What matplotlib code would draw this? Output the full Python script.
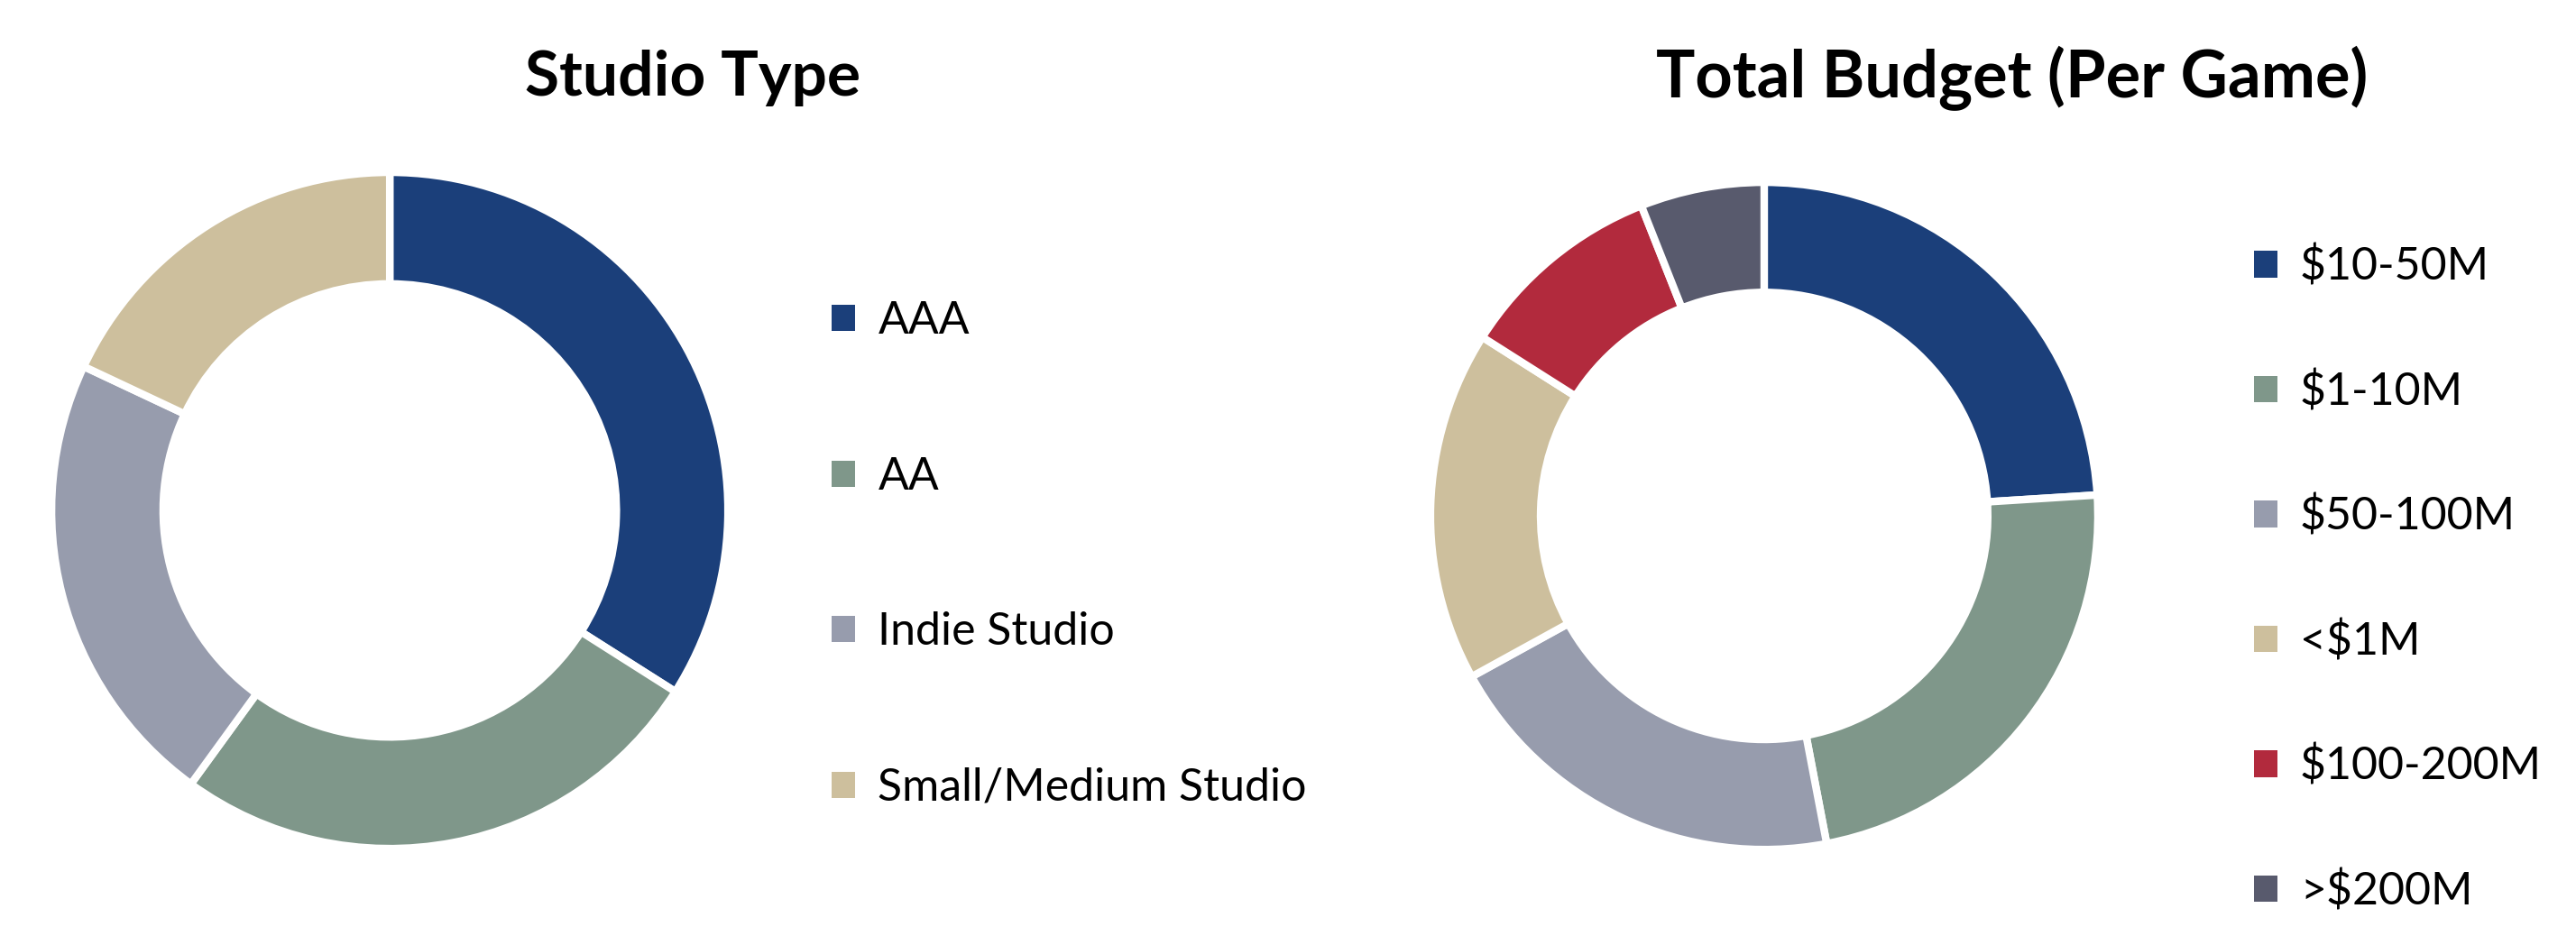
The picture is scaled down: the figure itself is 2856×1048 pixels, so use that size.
import matplotlib
matplotlib.use("Agg")
import matplotlib.pyplot as plt

# studio type split (%)
studio_labels = ["AAA", "AA", "Indie Studio", "Small/Medium Studio"]
studio_values = [34, 26, 22, 18]
studio_colors = ["#1b3f7a", "#7f978a", "#979cad", "#cdbf9d"]

# total budget per game (%)
budget_labels = ["$10-50M", "$1-10M", "$50-100M", "<$1M", "$100-200M", ">$200M"]
budget_values = [24, 23, 20, 17, 10, 6]
budget_colors = ["#1b3f7a", "#7f978a", "#979cad", "#cdbf9d", "#b22a3d", "#585a6d"]

plt.rcParams['font.family'] = ['Lato', 'DejaVu Sans']

fig = plt.figure(figsize=(28.56, 10.48), dpi=100)

ax1 = fig.add_axes([0.020, 0.102, 0.2626, 0.7157])
ax2 = fig.add_axes([0.5553, 0.101, 0.2591, 0.7061])

def donut(ax, vals, cols):
    w, _ = ax.pie(vals, colors=cols, startangle=90, counterclock=False,
                  radius=1.0,
                  wedgeprops=dict(width=0.33, edgecolor="white", linewidth=6))
    ax.set_xlim(-1, 1)
    ax.set_ylim(-1, 1)
    ax.set_aspect("equal")
    ax.axis("off")
    return w

w1 = donut(ax1, studio_values, studio_colors)
w2 = donut(ax2, budget_values, budget_colors)

fig.text(0.269, 0.917, "Studio Type", ha="center", va="center",
         fontsize=50, fontweight="bold")
fig.text(0.781, 0.917, "Total Budget (Per Game)", ha="center", va="center",
         fontsize=52, fontweight="bold")

leg_kw = dict(frameon=False, loc="center left", fontsize=36,
              handlelength=0.52, handleheight=0.52, handletextpad=0.5,
              borderpad=0, borderaxespad=0)
for h in w1 + w2:
    h.set_linewidth(0)
fig.legend(w1, studio_labels, bbox_to_anchor=(0.323, 0.413),
           labelspacing=2.53, **leg_kw)
fig.legend(w2, budget_labels, bbox_to_anchor=(0.875, 0.387),
           labelspacing=1.83, **leg_kw)
for h in w1 + w2:
    h.set_linewidth(6)

fig.savefig("out.png", dpi=100, facecolor="white")
